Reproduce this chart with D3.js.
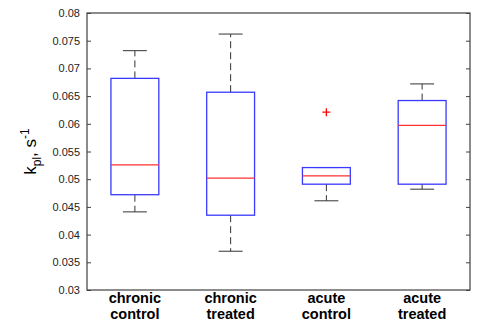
<!DOCTYPE html>
<html>
<head>
<meta charset="utf-8">
<script src="https://cdn.jsdelivr.net/npm/d3@7"></script>
<style>
  body { margin: 0; background: #fff; }
  svg { display: block; font-family: Arial, "Liberation Sans", sans-serif; }
</style>
</head>
<body>
<div id="chart"></div>
<script>
// groups and box stats
var groups = ["chronic control", "chronic treated", "acute control", "acute treated"];
var lowWhisk = [0.0441, 0.0370, 0.0461, 0.0482];
var q1 = [0.0472, 0.0435, 0.0491, 0.0491];
var median = [0.0526, 0.0502, 0.0506, 0.0597];
var q3 = [0.0682, 0.0657, 0.0521, 0.0642];
var highWhisk = [0.0732, 0.0762, 0.0521, 0.0672];
var outliers = [[], [], [0.0621], []];
var yTicks = [0.03, 0.035, 0.04, 0.045, 0.05, 0.055, 0.06, 0.065, 0.07, 0.075, 0.08];

var width = 478, height = 324;
var margin = {top: 13, right: 8, bottom: 34, left: 87};

var svg = d3.select("#chart").append("svg")
    .attr("width", width)
    .attr("height", height);

var x = d3.scaleLinear()
    .domain([0.5, 4.5])
    .range([margin.left, width - margin.right]);

var y = d3.scaleLinear()
    .domain([0.03, 0.08])
    .range([height - margin.bottom, margin.top]);

var axisCol = "#404040";

// left axis, ticks inward
var gl = svg.append("g")
    .attr("transform", "translate(" + margin.left + ",0)")
    .call(d3.axisLeft(y).tickValues(yTicks).tickSizeInner(-4).tickSizeOuter(0).tickPadding(7).tickFormat(d3.format("")));
gl.select(".domain").remove();
gl.selectAll(".tick line").attr("stroke", axisCol);
gl.selectAll(".tick text").attr("fill", "#222").style("font-size", "11px");

// right axis ticks only
var gr = svg.append("g")
    .attr("transform", "translate(" + (width - margin.right) + ",0)")
    .call(d3.axisRight(y).tickValues(yTicks).tickSizeInner(-4).tickSizeOuter(0).tickFormat(""));
gr.select(".domain").remove();
gr.selectAll(".tick line").attr("stroke", axisCol);

// frame
svg.append("rect")
    .attr("x", margin.left)
    .attr("y", margin.top)
    .attr("width", width - margin.left - margin.right)
    .attr("height", height - margin.top - margin.bottom)
    .attr("fill", "none")
    .attr("stroke", axisCol)
    .attr("stroke-width", 1.2);

var boxW = 0.5, capW = 0.25;
var idx = d3.range(groups.length);

var box = svg.selectAll(".box")
    .data(idx)
    .enter().append("g")
    .attr("class", "box");

// upper whisker
box.append("line")
    .attr("x1", function(i) { return x(i + 1); })
    .attr("x2", function(i) { return x(i + 1); })
    .attr("y1", function(i) { return y(q3[i]); })
    .attr("y2", function(i) { return y(highWhisk[i]); })
    .attr("stroke", "#333")
    .attr("stroke-dasharray", "7,4");
// lower whisker
box.append("line")
    .attr("x1", function(i) { return x(i + 1); })
    .attr("x2", function(i) { return x(i + 1); })
    .attr("y1", function(i) { return y(q1[i]); })
    .attr("y2", function(i) { return y(lowWhisk[i]); })
    .attr("stroke", "#333")
    .attr("stroke-dasharray", "7,4");
// caps
box.append("line")
    .attr("x1", function(i) { return x(i + 1 - capW / 2); })
    .attr("x2", function(i) { return x(i + 1 + capW / 2); })
    .attr("y1", function(i) { return y(highWhisk[i]); })
    .attr("y2", function(i) { return y(highWhisk[i]); })
    .attr("stroke", "#333");
box.append("line")
    .attr("x1", function(i) { return x(i + 1 - capW / 2); })
    .attr("x2", function(i) { return x(i + 1 + capW / 2); })
    .attr("y1", function(i) { return y(lowWhisk[i]); })
    .attr("y2", function(i) { return y(lowWhisk[i]); })
    .attr("stroke", "#333");
// box
box.append("rect")
    .attr("x", function(i) { return x(i + 1 - boxW / 2); })
    .attr("width", function() { return x(1 + boxW) - x(1); })
    .attr("y", function(i) { return y(q3[i]); })
    .attr("height", function(i) { return y(q1[i]) - y(q3[i]); })
    .attr("fill", "none")
    .attr("stroke", "#3a3aff")
    .attr("stroke-width", 1.3);
// median
box.append("line")
    .attr("x1", function(i) { return x(i + 1 - boxW / 2); })
    .attr("x2", function(i) { return x(i + 1 + boxW / 2); })
    .attr("y1", function(i) { return y(median[i]); })
    .attr("y2", function(i) { return y(median[i]); })
    .attr("stroke", "#ff3030")
    .attr("stroke-width", 1.3);

// outliers
idx.forEach(function(i) {
    outliers[i].forEach(function(v) {
        var cx = x(i + 1), cy = y(v);
        svg.append("path")
            .attr("d", "M" + (cx - 4) + "," + cy + "H" + (cx + 4) + "M" + cx + "," + (cy - 4) + "V" + (cy + 4))
            .attr("stroke", "#ff0000")
            .attr("stroke-width", 1.3);
    });
});

// category labels, two lines each as separate texts
idx.forEach(function(i) {
    groups[i].split(" ").forEach(function(p, j) {
        svg.append("text")
            .attr("class", "cat")
            .attr("x", x(i + 1))
            .attr("y", 303 + j * 16)
            .attr("text-anchor", "middle")
            .attr("fill", "#000")
            .style("font-size", "14.5px")
            .style("font-weight", "bold")
            .text(p);
    });
});

// y label
var yl = svg.append("text")
    .attr("transform", "translate(36," + ((margin.top + height - margin.bottom) / 2) + ") rotate(-90)")
    .attr("text-anchor", "middle")
    .attr("fill", "#000")
    .style("font-size", "17px");
yl.append("tspan").text("k");
yl.append("tspan").attr("dy", 5).style("font-size", "12px").text("pl");
yl.append("tspan").attr("dy", -5).text(", s");
yl.append("tspan").attr("dy", -7).style("font-size", "12px").text("-1");
</script>
</body>
</html>
